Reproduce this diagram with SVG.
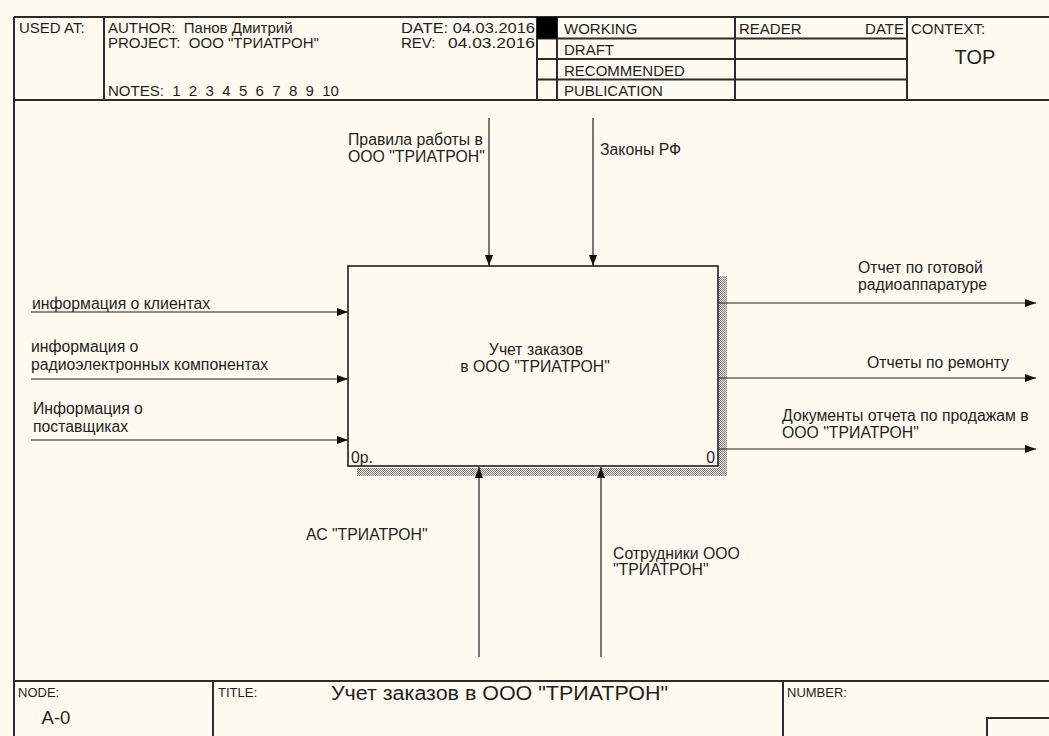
<svg xmlns="http://www.w3.org/2000/svg" width="1049" height="736" viewBox="0 0 1049 736">
<style>
.bg{fill:#FFFAEF}
.frame{stroke:#2b2b2b;stroke-width:2;fill:none}
.t{font-family:"Liberation Sans",Arial,sans-serif;font-size:15px;fill:#1e1e1e}
.lbl{font-family:"Liberation Sans",Arial,sans-serif;font-size:15.8px;fill:#1e1e1e}
.arrow{stroke:#1e1e1e;stroke-width:1.2;fill:none}
.box{fill:#FFFAEF;stroke:#1e1e1e;stroke-width:1.6}
</style>
<defs>
<pattern id="hatch" width="2" height="2" patternUnits="userSpaceOnUse">
<rect width="2" height="2" fill="#ebe7df"/>
<rect x="0" y="0" width="1" height="1" fill="#808080"/>
<rect x="1" y="1" width="1" height="1" fill="#808080"/>
</pattern>
<marker id="ah" markerUnits="userSpaceOnUse" markerWidth="12" markerHeight="10" refX="11" refY="5" orient="auto">
<path d="M0,1 L11,5 L0,9 z" fill="#111"/>
</marker>
</defs>
<rect class="bg" x="0" y="0" width="1049" height="736"/>

<g id="header">
<path class="frame" d="M14,17 H1049 M14,17 V736 M14,100 H1049 M104,17 V100 M537,17 V100 M557,17 V100 M735,17 V100 M907,17 V100 M537,38.5 H907 M537,59 H907 M537,79.5 H907"/>
<rect x="537" y="17" width="20" height="21.5" fill="#000"/>
<text class="t" x="19" y="33">USED AT:</text>
<text class="t" x="108" y="33" xml:space="preserve">AUTHOR:  Панов Дмитрий</text>
<text class="t" x="108" y="48" xml:space="preserve">PROJECT:  ООО "ТРИАТРОН"</text>
<text class="t" x="108" y="96" xml:space="preserve">NOTES:  1  2  3  4  5  6  7  8  9  10</text>
<text class="t" x="401" y="33" textLength="134" lengthAdjust="spacingAndGlyphs">DATE: 04.03.2016</text>
<text class="t" x="401" y="48">REV:</text>
<text class="t" x="448" y="48" textLength="87" lengthAdjust="spacingAndGlyphs">04.03.2016</text>
<text class="t" x="564" y="34">WORKING</text>
<text class="t" x="564" y="55">DRAFT</text>
<text class="t" x="564" y="76">RECOMMENDED</text>
<text class="t" x="564" y="96">PUBLICATION</text>
<text class="t" x="739" y="34">READER</text>
<text class="t" x="904" y="34" text-anchor="end">DATE</text>
<text class="t" x="911" y="34">CONTEXT:</text>
<text class="t" x="975" y="64" text-anchor="middle" style="font-size:20px">TOP</text>
</g>

<g id="footer">
<path class="frame" d="M14,681 H1049 M213,681 V736 M783,681 V736 M987,736 V718 H1049"/>
<text class="t" x="18" y="697" style="font-size:13px">NODE:</text>
<text class="t" x="56" y="724" text-anchor="middle" style="font-size:18.5px">A-0</text>
<text class="t" x="218" y="697" style="font-size:13px">TITLE:</text>
<text class="t" x="331" y="700" style="font-size:20px" textLength="337" lengthAdjust="spacingAndGlyphs">Учет заказов в ООО "ТРИАТРОН"</text>
<text class="t" x="787" y="697" style="font-size:13px">NUMBER:</text>
</g>

<g id="node-A0">
<rect x="357" y="468" width="370" height="8" fill="url(#hatch)"/>
<rect x="719" y="276" width="8" height="200" fill="url(#hatch)"/>
<rect class="box" x="348" y="266" width="370" height="200"/>
<text class="lbl" x="536" y="355" text-anchor="middle">Учет заказов</text>
<text class="lbl" x="535" y="372" text-anchor="middle">в ООО "ТРИАТРОН"</text>
<text class="lbl" x="351" y="463">0р.</text>
<text class="lbl" x="715" y="463" text-anchor="end">0</text>
</g>

<g id="connectors">
<path class="arrow" d="M31,312 H348" marker-end="url(#ah)"/>
<path class="arrow" d="M31,379 H348" marker-end="url(#ah)"/>
<path class="arrow" d="M31,440 H348" marker-end="url(#ah)"/>
<path class="arrow" d="M489,118 V266" marker-end="url(#ah)"/>
<path class="arrow" d="M593,118 V266" marker-end="url(#ah)"/>
<path class="arrow" d="M479,657 V467" marker-end="url(#ah)"/>
<path class="arrow" d="M601,657 V467" marker-end="url(#ah)"/>
<path class="arrow" d="M718,303 H1036" marker-end="url(#ah)"/>
<path class="arrow" d="M718,378 H1036" marker-end="url(#ah)"/>
<path class="arrow" d="M718,449 H1036" marker-end="url(#ah)"/>
<text class="lbl" x="32" y="309">информация о клиентах</text>
<text class="lbl" x="31" y="352">информация о</text>
<text class="lbl" x="31" y="370">радиоэлектронных компонентах</text>
<text class="lbl" x="33" y="414">Информация о</text>
<text class="lbl" x="33" y="432">поставщиках</text>
<text class="lbl" x="348" y="145">Правила работы в</text>
<text class="lbl" x="348" y="162">ООО "ТРИАТРОН"</text>
<text class="lbl" x="600" y="155">Законы РФ</text>
<text class="lbl" x="306" y="540">АС "ТРИАТРОН"</text>
<text class="lbl" x="613" y="559">Сотрудники ООО</text>
<text class="lbl" x="613" y="575">"ТРИАТРОН"</text>
<text class="lbl" x="858" y="273">Отчет по готовой</text>
<text class="lbl" x="858" y="290">радиоаппаратуре</text>
<text class="lbl" x="867" y="368">Отчеты по ремонту</text>
<text class="lbl" x="782" y="421">Документы отчета по продажам в</text>
<text class="lbl" x="782" y="438">ООО "ТРИАТРОН"</text>
</g>
</svg>
